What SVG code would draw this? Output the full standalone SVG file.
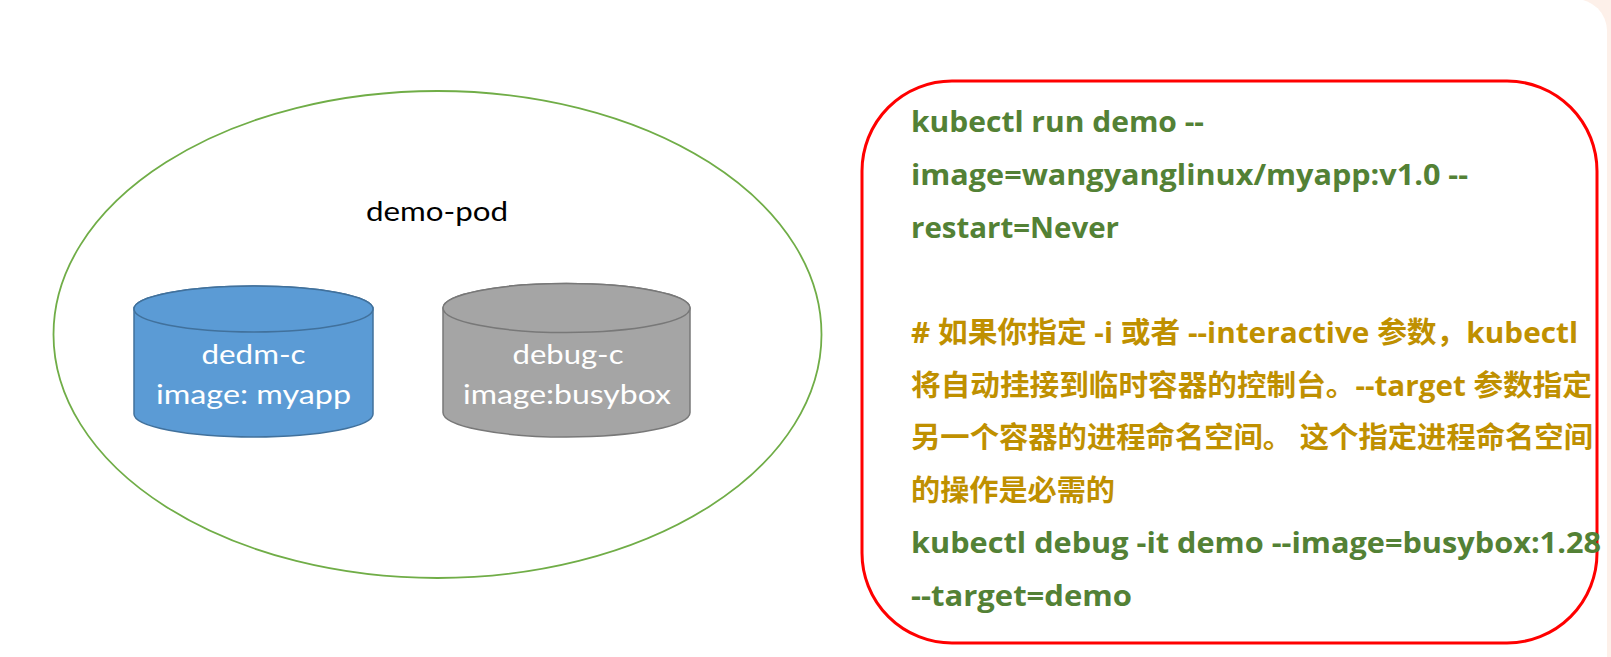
<svg xmlns="http://www.w3.org/2000/svg" width="1611" height="657" viewBox="0 0 1611 657">
  <style>
    .lbl { font-family: "Lato", "Liberation Sans", sans-serif; font-size: 26px; }
    .cyl { font-family: "Lato", "Liberation Sans", sans-serif; font-size: 27.5px; fill: #FFFFFF; }
    .cmd { font-family: "Open Sans", "Noto Sans CJK SC", sans-serif; font-weight: bold; font-size: 29px; }
    .green { fill: #538135; }
    .gold { fill: #BF9000; }
  </style>
  <rect x="0" y="0" width="1611" height="657" fill="#FDF0E9"/>
  <rect x="-40" y="-1" width="1647" height="700" rx="32" ry="32" fill="#FFFFFF"/>

  <g id="pod">
    <ellipse cx="437.5" cy="334.5" rx="384" ry="243.5" fill="none" stroke="#70AD47" stroke-width="1.8"/>
    <text class="lbl" x="437" y="221" text-anchor="middle" fill="#000000" textLength="142" lengthAdjust="spacingAndGlyphs">demo-pod</text>
  </g>

  <g id="dedm-c">
    <path d="M134,309 A119.5,23 0 0 1 373,309 L373,414 A119.5,23 0 0 1 134,414 Z" fill="#5B9BD5" stroke="#41719C" stroke-width="1.5"/>
    <ellipse cx="253.5" cy="309" rx="119.5" ry="23" fill="#5B9BD5" stroke="#41719C" stroke-width="1.5"/>
    <text class="cyl" x="253.5" y="364" text-anchor="middle" textLength="104" lengthAdjust="spacingAndGlyphs">dedm-c</text>
    <text class="cyl" x="253.5" y="404" text-anchor="middle" textLength="195" lengthAdjust="spacingAndGlyphs">image: myapp</text>
  </g>

  <g id="debug-c">
    <path d="M443,308 A123.5,24.5 0 0 1 690,308 L690,412.5 A123.5,24.5 0 0 1 443,412.5 Z" fill="#A5A5A5" stroke="#787878" stroke-width="1.5"/>
    <ellipse cx="566.5" cy="308" rx="123.5" ry="24.5" fill="#A5A5A5" stroke="#787878" stroke-width="1.5"/>
    <text class="cyl" x="568" y="364" text-anchor="middle" textLength="111" lengthAdjust="spacingAndGlyphs">debug-c</text>
    <text class="cyl" x="567" y="404" text-anchor="middle" textLength="208" lengthAdjust="spacingAndGlyphs">image:busybox</text>
  </g>

  <g id="commands">
    <rect x="862" y="81" width="735" height="562" rx="90" ry="90" fill="none" stroke="#FF0000" stroke-width="3"/>
    <text class="cmd green" x="911" y="132.3" textLength="293" lengthAdjust="spacingAndGlyphs">kubectl run demo --</text>
    <text class="cmd green" x="911" y="184.9" textLength="557" lengthAdjust="spacingAndGlyphs">image=wangyanglinux/myapp:v1.0 --</text>
    <text class="cmd green" x="911" y="237.6" textLength="208" lengthAdjust="spacingAndGlyphs">restart=Never</text>
    <text class="cmd gold" x="911" y="342.8" textLength="667" lengthAdjust="spacingAndGlyphs"># 如果你指定 -i 或者 --interactive 参数，kubectl</text>
    <text class="cmd gold" x="911" y="395.5" textLength="681" lengthAdjust="spacingAndGlyphs">将自动挂接到临时容器的控制台。--target 参数指定</text>
    <text class="cmd gold" x="911" y="448.1" textLength="682" lengthAdjust="spacingAndGlyphs">另一个容器的进程命名空间。 这个指定进程命名空间</text>
    <text class="cmd gold" x="911" y="500.7" textLength="204" lengthAdjust="spacingAndGlyphs">的操作是必需的</text>
    <text class="cmd green" x="911" y="553.3" textLength="690" lengthAdjust="spacingAndGlyphs">kubectl debug -it demo --image=busybox:1.28</text>
    <text class="cmd green" x="911" y="606" textLength="221" lengthAdjust="spacingAndGlyphs">--target=demo</text>
  </g>
</svg>
